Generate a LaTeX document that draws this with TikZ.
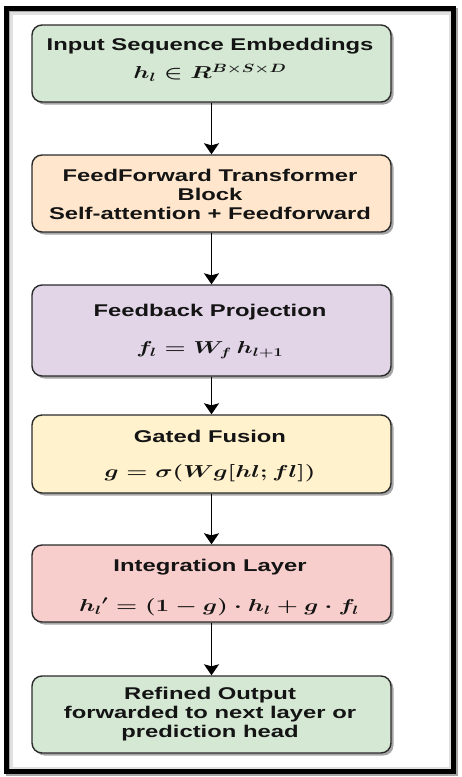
\documentclass[tikz,border=0pt]{standalone}
\usepackage{fontspec}
\setmainfont{Liberation Sans}[FakeStretch=1.4]
\usepackage{amsmath}
\usetikzlibrary{arrows.meta,shadows}
\definecolor{cgreen}{HTML}{D5E8D4}
\definecolor{corange}{HTML}{FFE6CC}
\definecolor{cpurple}{HTML}{E1D5E7}
\definecolor{cyellow}{HTML}{FFF2CC}
\definecolor{cred}{HTML}{F8CECC}
\definecolor{cborder}{HTML}{2B2B2B}
\definecolor{ctext}{HTML}{141414}
\newcommand{\mx}[1]{\scalebox{1.4}[1]{\boldmath$#1$}}
\begin{document}
\begin{tikzpicture}[x=1pt,y=-1pt,
  box/.style={draw=cborder, line width=1.4pt, rounded corners=10pt,
    minimum width=359pt, inner sep=0pt,
    drop shadow={shadow xshift=2.5pt, shadow yshift=-2.5pt, opacity=0.35, fill=black}},
  txt/.style={font=\fontsize{17}{19}\selectfont\bfseries, text=ctext, align=center, inner sep=0pt},
  mth/.style={font=\fontsize{17}{19}\selectfont, text=ctext, inner sep=0pt},
  arr/.style={draw=black, line width=1.4pt, -{Stealth[width=15pt,length=11pt,inset=2pt]}}]
\useasboundingbox (0,0) rectangle (461,777);
\fill[white] (0,0) rectangle (461,777);
% outer frame with soft shadow
\draw[line width=5pt, black!35] (8.5,10.5) rectangle (455,773);
\draw[line width=3pt, black!12] (11,13) rectangle (450.5,768.5);
\draw[line width=5pt, black] (6.5,8.5) rectangle (453,771);
% boxes
\node[box, fill=cgreen,  minimum height=77pt] (b1) at (211.5,63.5) {};
\node[box, fill=corange, minimum height=77pt] (b2) at (211.5,193.5) {};
\node[box, fill=cpurple, minimum height=91pt] (b3) at (211.5,330.5) {};
\node[box, fill=cyellow, minimum height=78pt] (b4) at (211.5,454) {};
\node[box, fill=cred,    minimum height=77pt] (b5) at (211.5,583.5) {};
\node[box, fill=cgreen,  minimum height=77pt] (b6) at (211.5,714.5) {};
% texts
\node[txt] (t1) at (210,46) {Input Sequence Embeddings};
\node[mth] (m1) at (210,73) {\mx{h_l \in R^{B\times S\times D}}};
\node[txt] (t2) at (210,194) {FeedForward Transformer\\Block\\Self-attention + Feedforward};
\node[txt] (t3) at (210,312) {Feedback Projection};
\node[mth] (m3) at (210,350) {\mx{f_l = W_f\, h_{l+1}}};
\node[txt] (t4) at (210,436) {Gated Fusion};
\node[mth] (m4) at (210,473) {\mx{g = \sigma(Wg[hl;fl])}};
\node[txt] (t5) at (210,567) {Integration Layer};
\node[mth] (m5) at (219,607) {\mx{{h_l}' = (1-g)\cdot h_l + g\cdot f_l}};
\node[txt] (t6) at (210,714.5) {Refined Output\\forwarded to next layer or\\prediction head};
% arrows
\draw[arr] (b1.south) -- (b2.north);
\draw[arr] (b2.south) -- (b3.north);
\draw[arr] (b3.south) -- (b4.north);
\draw[arr] (b4.south) -- (b5.north);
\draw[arr] (b5.south) -- (b6.north);
\end{tikzpicture}
\end{document}
